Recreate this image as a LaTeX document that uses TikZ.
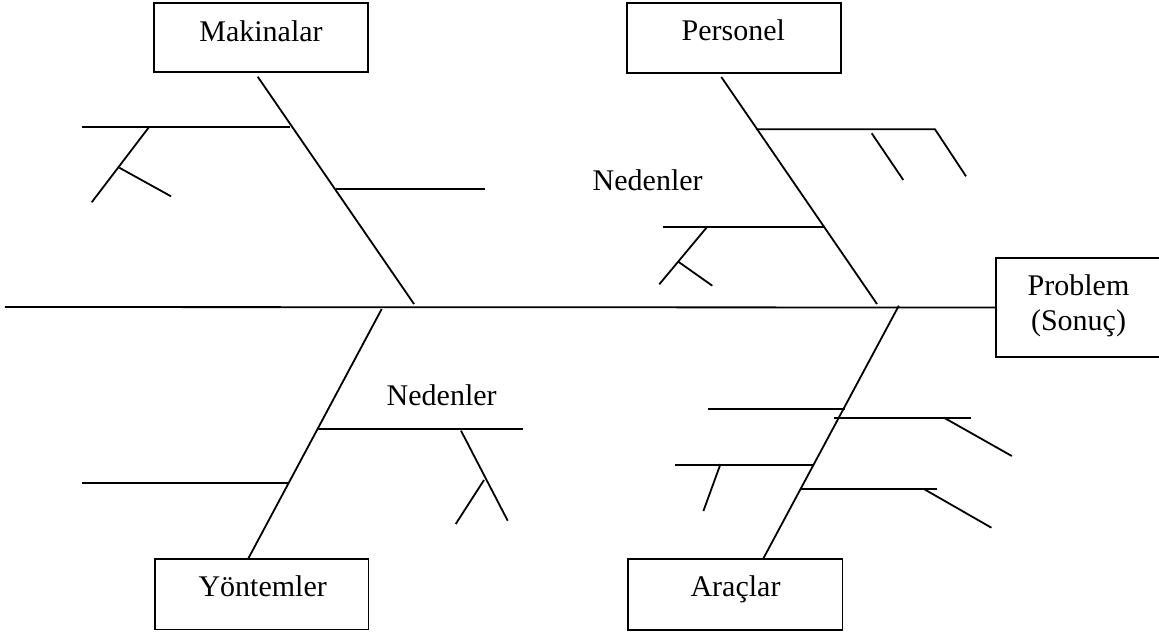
\documentclass[tikz,border=0pt]{standalone}
\usepackage{fontspec}
\setmainfont{Liberation Serif}
\begin{document}
\begin{tikzpicture}[x=0.5pt,y=-0.5pt,
  line width=0.9pt,
  box/.style={draw,line width=0.9pt,rectangle,inner sep=0pt},
  lbl/.style={inner sep=0pt,font=\fontsize{15pt}{18pt}\selectfont},
  bone/.style={line width=0.9pt}]
\useasboundingbox (0,0) rectangle (1159,633);
% boxes
\node[box,minimum width=107pt,minimum height=34.8pt] (mak) at (261.3,37.5) {};
\node[box,minimum width=107.3pt,minimum height=35pt] (per) at (734,37.7) {};
\node[box,minimum width=106.7pt,minimum height=35.2pt] (yon) at (261.7,594.2) {};
\node[box,minimum width=107.3pt,minimum height=35.5pt] (ara) at (735.1,594.5) {};
\node[box,minimum width=100pt,minimum height=49.8pt] (prob) at (1096,307.5) {};
% labels
\node[lbl] (makt) at (261,31) {Makinalar};
\node[lbl] (pert) at (733.3,30.7) {Personel};
\node[lbl] (yont) at (262.7,586.7) {Yöntemler};
\node[lbl] (arat) at (735.5,589.5) {Araçlar};
\node[lbl] (probt) at (1078.5,285) {Problem};
\node[lbl] (sont) at (1078.5,323) {(Sonuç)};
\node[lbl] (ned1) at (647.7,180.7) {Nedenler};
\node[lbl] (ned2) at (441.7,395) {Nedenler};
% spine
\coordinate (tail) at (5,307);
\draw[bone] (tail) -- (prob.west);
% main bones
\coordinate (makA) at (257.7,76.7); \coordinate (makB) at (414,304);
\coordinate (perA) at (721.3,77);   \coordinate (perB) at (877,304);
\coordinate (yonA) at (381.7,309);  \coordinate (yonB) at (248.3,558.5);
\coordinate (araA) at (898.8,305.7);\coordinate (araB) at (763.3,558.5);
\draw[bone] (makA) -- (makB);
\draw[bone] (perA) -- (perB);
\draw[bone] (yonA) -- (yonB);
\draw[bone] (araA) -- (araB);
% Makinalar branches
\draw (82.3,126.7) -- (290,126.7);
\draw (149.3,126.7) -- (91.7,202.3);
\draw (119.3,167.7) -- (171,196.3);
\draw (336,189) -- (485,189);
% Personel branches
\draw (756,129.3) -- (935,129.3) -- (966,176.3);
\draw (871.7,133.3) -- (903.3,180);
\draw (663.3,226.7) -- (824,226.7);
\draw (707.3,226.7) -- (659.3,284.3);
\draw (678.3,261.7) -- (712.3,285.7);
% Yontemler branches
\draw (316.7,428.7) -- (523.3,428.7);
\draw (461,430.7) -- (507.7,520.7);
\draw (484,480) -- (455.7,524);
\draw (81.7,483.3) -- (288.3,483.3);
% Araclar branches
\draw (708,409.3) -- (844.6,409.3);
\draw (834.2,417.7) -- (970.8,417.7);
\draw (944,417.7) -- (1011.8,456);
\draw (674.9,465) -- (813.2,465);
\draw (720.5,464) -- (703.4,511);
\draw (799.6,489.3) -- (936.9,489.3);
\draw (924.4,489.3) -- (991.4,527.7);
\end{tikzpicture}
\end{document}
